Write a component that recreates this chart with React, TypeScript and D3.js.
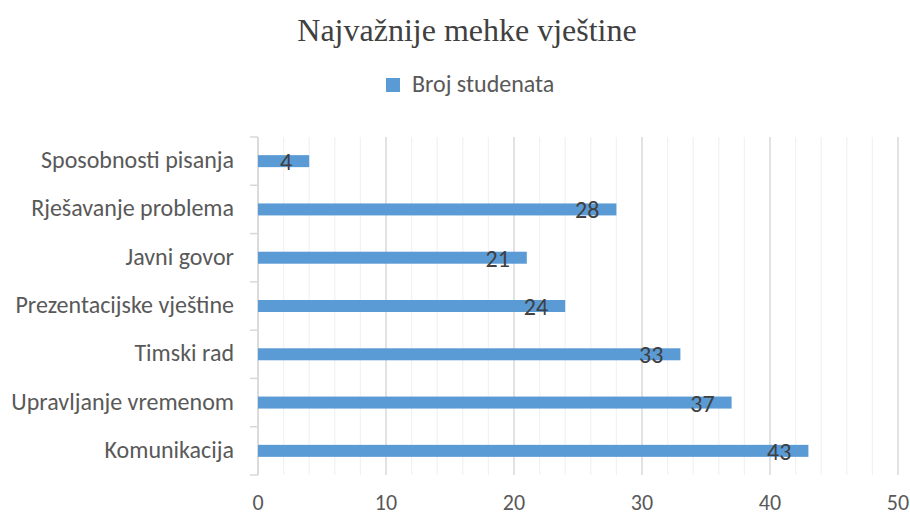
import React from "react";
import * as d3 from "d3";

const categories = [
  "Sposobnosti pisanja",
  "Rješavanje problema",
  "Javni govor",
  "Prezentacijske vještine",
  "Timski rad",
  "Upravljanje vremenom",
  "Komunikacija",
];
const studenti = [4, 28, 21, 24, 33, 37, 43];
const xTicks = [0, 10, 20, 30, 40, 50];
const minorTicks = d3.range(0, 51, 2);

const W = 910;
const H = 516;
const sans = "Calibri, Carlito, 'Open Sans', sans-serif";

export default function App() {
  // scales
  const x = d3.scaleLinear().domain([0, 50]).range([258, 898]);
  const y = d3.scaleBand().domain(categories).range([137, 475]);
  const barH = 12;

  return (
    <svg width={W} height={H} style={{ position: "absolute", left: 0, top: 0, background: "#fff" }}>
      <text x={467} y={41} textAnchor="middle" fontFamily="'Liberation Serif', serif" fontSize={32} fill="#404040">
        Najvažnije mehke vještine
      </text>

      {/* legend */}
      <rect x={386} y={78} width={14} height={14} fill="#5b9bd5" />
      <text x={412} y={92} fontFamily={sans} fontSize={24} fill="#595959">Broj studenata</text>

      {/* gridlines */}
      {minorTicks.map((t) => (
        <line key={"m" + t} x1={x(t)} x2={x(t)} y1={137} y2={475}
          stroke={t % 10 === 0 ? "#d9d9d9" : "#f2f2f2"} strokeWidth={t % 10 === 0 ? 1.5 : 1.3} />
      ))}

      {/* category axis */}
      <line x1={258} x2={258} y1={137} y2={475} stroke="#d9d9d9" strokeWidth={1.5} />
      {d3.range(categories.length + 1).map((i) => {
        const yy = 137 + i * y.step();
        return <line key={"t" + i} x1={250} x2={258} y1={yy} y2={yy} stroke="#d9d9d9" strokeWidth={1.5} />;
      })}

      {/* bars */}
      {categories.map((c, i) => {
        const cy = (y(c) as number) + y.bandwidth() / 2;
        return (
          <g key={c}>
            <rect x={x(0)} y={cy - barH / 2} width={x(studenti[i]) - x(0)} height={barH} fill="#5b9bd5" />
            <text x={x(studenti[i]) - 17} y={cy + 9} textAnchor="end" fontFamily={sans} fontSize={24} fill="#404040">
              {studenti[i]}
            </text>
            <text x={234} y={cy + 7} textAnchor="end" fontFamily={sans} fontSize={24} fill="#595959">
              {c}
            </text>
          </g>
        );
      })}

      {/* value axis labels */}
      {xTicks.map((t) => (
        <text key={t} x={x(t)} y={510} textAnchor="middle" fontFamily={sans} fontSize={22} fill="#595959">
          {t}
        </text>
      ))}
    </svg>
  );
}
